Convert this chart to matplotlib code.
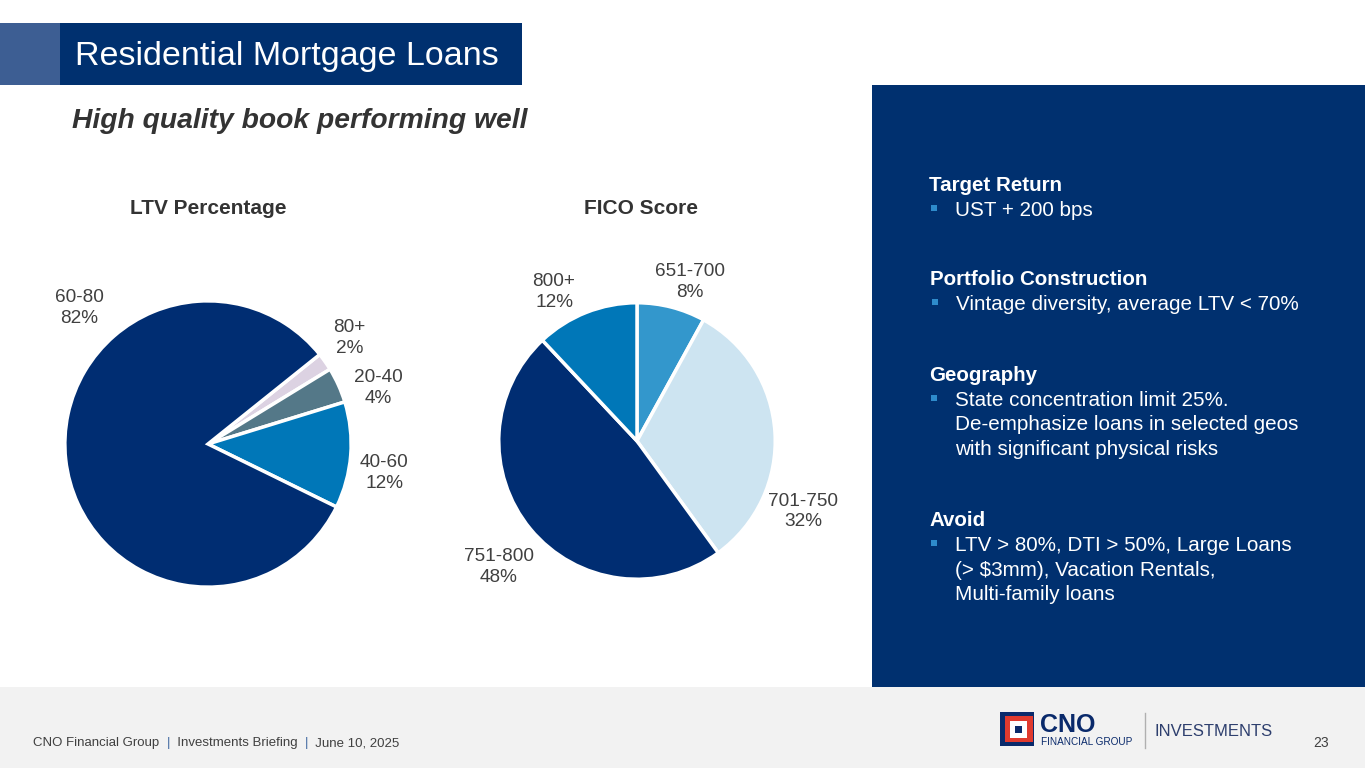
import matplotlib
matplotlib.use("Agg")
import matplotlib.pyplot as plt
from matplotlib.patches import Rectangle

plt.rcParams['font.family'] = ['Liberation Sans', 'DejaVu Sans']

# ---------------- data ----------------
ltv_labels = ["80+", "20-40", "40-60", "60-80"]
ltv_values = [2, 4, 12, 82]
ltv_colors = ["#DCD2E2", "#547888", "#0077B8", "#002D72"]

fico_labels = ["651-700", "701-750", "751-800", "800+"]
fico_values = [8, 32, 48, 12]
fico_colors = ["#3397CC", "#CDE4F1", "#002D72", "#0077B8"]

# label positions (in pie-radius units), layout only
ltv_label_pos = [(0.99, 0.74), (1.19, 0.39), (1.23, -0.20), (-0.90, 0.95)]
fico_label_pos = [(0.38, 1.15), (1.20, -0.51), (-1.00, -0.91), (-0.60, 1.08)]

W, H = 1365, 768
fig = plt.figure(figsize=(W / 100, H / 100), dpi=100)
fig.patch.set_facecolor("white")

bg = fig.add_axes([0, 0, 1, 1])
bg.set_xlim(0, W)
bg.set_ylim(H, 0)
bg.axis("off")

NAVY = "#00306F"
# title bar
bg.add_patch(Rectangle((0, 23), 60, 62, color="#3D5E93", lw=0))
bg.add_patch(Rectangle((60, 23), 462, 62, color=NAVY, lw=0))
bg.text(75, 56, "Residential Mortgage Loans", color="white", fontsize=24.5,
        va="center", ha="left")
bg.text(72, 121, "High quality book performing well", color="#333333",
        fontsize=20.3, fontweight="bold", fontstyle="italic", va="center", ha="left")

# right panel
bg.add_patch(Rectangle((872, 85), W - 872, 602, color=NAVY, lw=0))
# footer
bg.add_patch(Rectangle((0, 687), W, H - 687, color="#F2F2F2", lw=0))

# chart titles
bg.text(208, 208, "LTV Percentage", color="#333333", fontsize=15,
        fontweight="bold", ha="center", va="center")
bg.text(641, 208, "FICO Score", color="#333333", fontsize=15,
        fontweight="bold", ha="center", va="center")

# right panel text
sections = [
    ("Target Return", 929, 184, ["UST + 200 bps"]),
    ("Portfolio Construction", 930, 278, ["Vintage diversity, average LTV < 70%"]),
    ("Geography", 929, 374, ["State concentration limit 25%.",
                             "De-emphasize loans in selected geos",
                             "with significant physical risks"]),
    ("Avoid", 929, 519, ["LTV > 80%, DTI > 50%, Large Loans",
                         "(> $3mm), Vacation Rentals,",
                         "Multi-family loans"]),
]
for head, x, y, lines in sections:
    bg.text(x, y + 1.5, head, color="white", fontsize=14.8, fontweight="bold",
            ha="left", va="center")
    for i, ln in enumerate(lines):
        yy = y + 25 + 24.5 * i
        bg.text(x + 26, yy + 1.5, ln, color="white", fontsize=14.9, ha="left",
                va="center")
        if i == 0:
            bg.add_patch(Rectangle((x + 2, yy - 4), 6, 6, color="#2E8BCB", lw=0))

# footer text
fx = 33
fy = 743
parts = [("CNO Financial Group  ", "#404040"), ("|", "#4A6FA5"),
         ("  Investments Briefing  ", "#404040"), ("|", "#4A6FA5"),
         ("  June 10, 2025", "#404040")]
fig.canvas.draw()
renderer = fig.canvas.get_renderer()
cur = fx
for txt, col in parts:
    t = bg.text(cur, fy, txt, color=col, fontsize=9.5, ha="left", va="center")
    bb = t.get_window_extent(renderer=renderer)
    cur += bb.width
bg.text(1329, 743, "23", color="#404040", fontsize=10, ha="right", va="center")

# logo
bg.add_patch(Rectangle((1000, 712), 34, 34, color="#0A2A6B", lw=0))
bg.add_patch(Rectangle((1005, 716), 28, 26, color="#E03A2E", lw=0))
bg.add_patch(Rectangle((1010, 721), 17, 17, color="white", lw=0))
bg.add_patch(Rectangle((1015, 726), 7, 7, color="#0A2A6B", lw=0))
bg.text(1040, 725, "CNO", color="#0A2A6B", fontsize=18, fontweight="bold",
        ha="left", va="center")
bg.text(1041, 742, "FINANCIAL GROUP", color="#0A2A6B", fontsize=7.2,
        ha="left", va="center")
bg.plot([1145, 1145], [713, 748], color="#B0B0B0", lw=1)
bg.text(1155, 731, "INVESTMENTS", color="#2E3F6E", fontsize=12, ha="left",
        va="center")


def pie_axes(cx, cy, r):
    return fig.add_axes([(cx - r) / W, (H - cy - r) / H, 2 * r / W, 2 * r / H])


def draw_pie(ax, values, colors, labels, pos, start):
    ax.pie(values, colors=colors, startangle=start, counterclock=False,
           wedgeprops=dict(edgecolor="white", linewidth=2.5), radius=1)
    ax.set_xlim(-1.02, 1.02)
    ax.set_ylim(-1.02, 1.02)
    ax.set_aspect("equal")
    ax.axis("off")
    for lab, v, (x, y) in zip(labels, values, pos):
        ax.text(x, y, f"{lab}\n{v}%", ha="center", va="center", fontsize=13.7,
                color="#404040", linespacing=1.3)


ax1 = pie_axes(208, 444, 146)
draw_pie(ax1, ltv_values, ltv_colors, ltv_labels, ltv_label_pos, 38.7)

ax2 = pie_axes(637, 441, 141)
draw_pie(ax2, fico_values, fico_colors, fico_labels, fico_label_pos, 90)

fig.savefig("out.png", dpi=100, facecolor=fig.get_facecolor())
